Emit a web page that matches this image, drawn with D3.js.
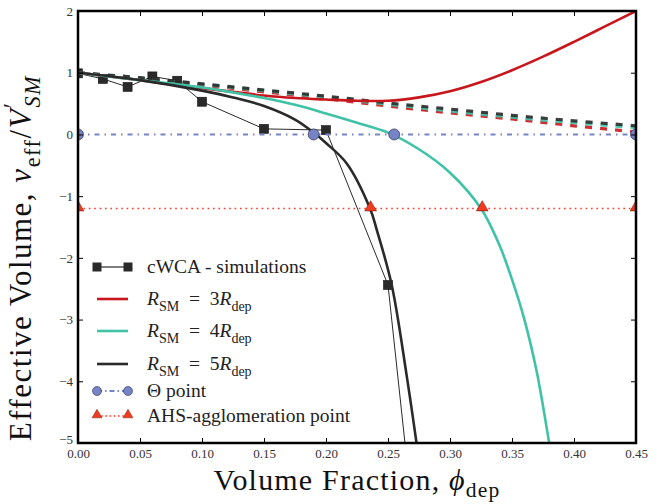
<!DOCTYPE html>
<html>
<head>
<meta charset="utf-8">
<script src="https://cdn.jsdelivr.net/npm/d3@7"></script>
<style>
body { margin: 0; background: #fff; }
svg { display: block; font-family: "Liberation Serif", "DejaVu Serif", serif; }
</style>
</head>
<body>
<svg width="662" height="504"></svg>
<script>
/********************** DATA *************************/
// cWCA simulation points (last one sits below the axis, only its line shows)
const simPhi = [0.00, 0.02, 0.04, 0.06, 0.08, 0.10, 0.15, 0.20, 0.25, 0.30];
const simNu  = [0.99, 0.90, 0.77, 0.94, 0.87, 0.53, 0.09, 0.07, -2.44, -11.8];

// theory curves, solid
const phiR3 = [0, 0.025, 0.05, 0.075, 0.1, 0.125, 0.15, 0.175, 0.2, 0.225, 0.25, 0.275, 0.3, 0.325, 0.35, 0.375, 0.4, 0.425, 0.45];
const nuR3  = [1.0, 0.94, 0.88, 0.81, 0.75, 0.69, 0.63, 0.59, 0.565, 0.545, 0.545, 0.6, 0.7, 0.85, 1.04, 1.26, 1.5, 1.75, 2.0];

const phiR4 = [0, 0.05, 0.1, 0.125, 0.15, 0.175, 0.2, 0.225, 0.25, 0.275, 0.3, 0.325, 0.34, 0.35, 0.36, 0.37, 0.38, 0.385];
const nuR4  = [1.0, 0.88, 0.76, 0.68, 0.59, 0.48, 0.34, 0.19, 0.03, -0.24, -0.62, -1.2, -1.8, -2.35, -3.0, -3.85, -5.0, -5.6];

const phiR5 = [0, 0.05, 0.1, 0.125, 0.15, 0.175, 0.19, 0.2, 0.2167, 0.2355, 0.241, 0.253, 0.265, 0.273, 0.277];
const nuR5  = [1.0, 0.88, 0.71, 0.6, 0.46, 0.24, 0.03, -0.14, -0.47, -1.2, -1.55, -2.44, -3.9, -5.0, -5.6];

// theory curves, dashed
const phiDash = [0, 0.05, 0.1, 0.15, 0.2, 0.25, 0.3, 0.35, 0.4, 0.45];
const dashR5  = [1.0, 0.92, 0.82, 0.72, 0.62, 0.51, 0.41, 0.31, 0.22, 0.14];
const dashR4  = [1.0, 0.91, 0.81, 0.71, 0.60, 0.49, 0.38, 0.28, 0.19, 0.11];
const dashR3  = [1.0, 0.90, 0.80, 0.69, 0.58, 0.46, 0.35, 0.25, 0.14, 0.04];

// special points
const thetaPhi = [0, 0.19, 0.255, 0.45];
const thetaNu  = [0, 0, 0, 0];
const ahsPhi   = [0, 0.236, 0.326, 0.45];
const ahsNu    = [-1.2, -1.2, -1.2, -1.2];

const xTicks = [0, 0.05, 0.1, 0.15, 0.2, 0.25, 0.3, 0.35, 0.4, 0.45];
const yTicks = [-5, -4, -3, -2, -1, 0, 1, 2];

/********************** SETUP *************************/
const svg = d3.select('svg');
const margin = { top: 11, right: 26, bottom: 61, left: 78 };
const width = 662, height = 504;

const red = '#c8161d', teal = '#3fc2a6', dark = '#2a2a2a', slate = '#7683c4';

const x = d3.scaleLinear().domain([0, 0.45]).range([margin.left, width - margin.right]);
const y = d3.scaleLinear().domain([-5, 2]).range([height - margin.bottom, margin.top]);

const zip = (xs, ys) => xs.map((v, i) => [v, ys[i]]);

svg.append('clipPath').attr('id', 'plotClip')
    .append('rect')
    .attr('x', x(0)).attr('y', y(2))
    .attr('width', x(0.45) - x(0)).attr('height', y(-5) - y(2));

const plot = svg.append('g').attr('clip-path', 'url(#plotClip)');

const straight = d3.line().x(d => x(d[0])).y(d => y(d[1]));
const smooth = d3.line().x(d => x(d[0])).y(d => y(d[1])).curve(d3.curveCatmullRom.alpha(0.5));

/********************** MARKS *************************/
// simulations: thin line + squares
plot.append('path')
    .attr('d', straight(zip(simPhi, simNu)))
    .attr('fill', 'none').attr('stroke', dark).attr('stroke-width', 1);
plot.selectAll('.sq').data(zip(simPhi, simNu)).join('rect')
    .attr('x', d => x(d[0]) - 4.5).attr('y', d => y(d[1]) - 4.5)
    .attr('width', 9).attr('height', 9)
    .attr('fill', dark).attr('stroke', '#111').attr('stroke-width', 0.6);

// dashed theory lines
[[dashR3, red], [dashR4, teal], [dashR5, dark]].forEach(([vals, col]) => {
    plot.append('path')
        .attr('d', smooth(zip(phiDash, vals)))
        .attr('fill', 'none').attr('stroke', col).attr('stroke-width', 3.2)
        .attr('stroke-dasharray', '7,8').attr('stroke-opacity', 0.9);
});

// solid theory lines
[[phiR3, nuR3, red], [phiR4, nuR4, teal], [phiR5, nuR5, dark]].forEach(([xs, ys, col]) => {
    plot.append('path')
        .attr('d', smooth(zip(xs, ys)))
        .attr('fill', 'none').attr('stroke', col).attr('stroke-width', 2.6);
});

// theta line + circles
plot.append('path')
    .attr('d', straight(zip([0, 0.45], [0, 0])))
    .attr('fill', 'none').attr('stroke', slate).attr('stroke-width', 2)
    .attr('stroke-dasharray', '5,5,1.5,5');
plot.selectAll('.th').data(zip(thetaPhi, thetaNu)).join('circle')
    .attr('cx', d => x(d[0])).attr('cy', d => y(d[1])).attr('r', 5.5)
    .attr('fill', slate).attr('stroke', '#2b2f55').attr('stroke-width', 0.7);

// AHS line + triangles
plot.append('path')
    .attr('d', straight(zip([0, 0.45], [-1.2, -1.2])))
    .attr('fill', 'none').attr('stroke', '#ff3b26').attr('stroke-width', 1.6)
    .attr('stroke-dasharray', '1.6,3.8');
const tri = d3.symbol().type(d3.symbolTriangle).size(60);
plot.selectAll('.tri').data(zip(ahsPhi, ahsNu)).join('path')
    .attr('d', tri)
    .attr('transform', d => `translate(${x(d[0])},${y(d[1]) - 1})`)
    .attr('fill', '#f23a1e').attr('stroke', '#7a1a10').attr('stroke-width', 0.6);

/********************** AXES *************************/
const tickStyle = g => {
    g.select('.domain').remove();
    g.selectAll('.tick line').attr('stroke', '#000').attr('stroke-width', 1);
    g.selectAll('.tick text').attr('fill', '#333').style('font-size', '13px')
        .style('font-family', '"Liberation Serif", serif');
};

svg.append('g').attr('transform', `translate(0,${y(-5)})`)
    .call(d3.axisBottom(x).tickValues(xTicks).tickFormat(d3.format('.2f')).tickSize(-5).tickPadding(6))
    .call(tickStyle);
svg.append('g').attr('transform', `translate(0,${y(2)})`)
    .call(d3.axisTop(x).tickValues(xTicks).tickFormat('').tickSize(-5))
    .call(tickStyle);
svg.append('g').attr('transform', `translate(${x(0)},0)`)
    .call(d3.axisLeft(y).tickValues(yTicks).tickFormat(d3.format('d')).tickSize(-5).tickPadding(5))
    .call(tickStyle);
svg.append('g').attr('transform', `translate(${x(0.45)},0)`)
    .call(d3.axisRight(y).tickValues(yTicks).tickFormat('').tickSize(-5))
    .call(tickStyle);

// nudge the bottom-most y label up a bit so it clears 0.00
svg.selectAll('.tick text').filter(d => d === -5).attr('dy', '0.05em');

svg.append('rect')
    .attr('x', x(0)).attr('y', y(2))
    .attr('width', x(0.45) - x(0)).attr('height', y(-5) - y(2))
    .attr('fill', 'none').attr('stroke', '#000').attr('stroke-width', 2.5);

/********************** TEXT HELPERS *************************/
// parts: {t, it, sub, sup, dx}
const mathText = (sel, parts, size, subShift = 0.3) => {
    let shift = 0;
    parts.forEach(p => {
        let target = p.sub ? size * subShift : p.sup ? -size * 0.38 : 0;
        const ts = sel.append('tspan').text(p.t)
            .attr('dy', target - shift)
            .style('font-size', (p.sub || p.sup ? size * 0.72 : size) + 'px');
        if (p.dx) ts.attr('dx', p.dx);
        if (p.it) ts.style('font-style', 'italic');
        shift = target;
    });
};

// axis titles
const xt = svg.append('text').attr('x', 357).attr('y', 490)
    .attr('text-anchor', 'middle').attr('fill', '#111').style('letter-spacing', '1.2px');
mathText(xt, [{ t: 'Volume Fraction, ' }, { t: 'ϕ', it: true }, { t: 'dep', sub: true }], 30, 0.22);

const yt = svg.append('text').attr('transform', 'translate(31,258) rotate(-90)')
    .attr('text-anchor', 'middle').attr('fill', '#111').style('letter-spacing', '1.5px');
mathText(yt, [{ t: 'Effective Volume, ' }, { t: 'ν', it: true }, { t: 'eff', sub: true },
    { t: '/' }, { t: 'V', it: true }, { t: '′', sup: true }, { t: 'SM', sub: true, it: true, dx: -6 }], 31);

/********************** LEGEND *************************/
const legend = svg.append('g');
const lx0 = 97, lx1 = 128, tx = 147;
const rows = [267, 299, 331, 364, 391, 416];

// simulations entry
legend.append('line').attr('x1', lx0).attr('x2', lx1).attr('y1', rows[0]).attr('y2', rows[0])
    .attr('stroke', dark).attr('stroke-width', 1.2);
[lx0, lx1].forEach(px => legend.append('rect')
    .attr('x', px - 4.5).attr('y', rows[0] - 4.5).attr('width', 9).attr('height', 9).attr('fill', dark));

[[red, rows[1]], [teal, rows[2]], [dark, rows[3]]].forEach(([col, ry]) => {
    legend.append('line').attr('x1', lx0).attr('x2', lx1).attr('y1', ry).attr('y2', ry)
        .attr('stroke', col).attr('stroke-width', 2.6);
});

legend.append('line').attr('x1', lx0).attr('x2', lx1).attr('y1', rows[4]).attr('y2', rows[4])
    .attr('stroke', slate).attr('stroke-width', 2).attr('stroke-dasharray', '5,3,1.5,3');
[lx0, lx1].forEach(px => legend.append('circle').attr('cx', px).attr('cy', rows[4]).attr('r', 4.5)
    .attr('fill', slate).attr('stroke', '#2b2f55').attr('stroke-width', 0.6));

legend.append('line').attr('x1', lx0).attr('x2', lx1).attr('y1', rows[5]).attr('y2', rows[5])
    .attr('stroke', '#ff3b26').attr('stroke-width', 1.6).attr('stroke-dasharray', '1.6,2.6');
const triSmall = d3.symbol().type(d3.symbolTriangle).size(42);
[lx0, lx1].forEach(px => legend.append('path').attr('d', triSmall)
    .attr('transform', `translate(${px},${rows[5] - 1})`)
    .attr('fill', '#f23a1e').attr('stroke', '#7a1a10').attr('stroke-width', 0.5));

const labelSize = 19.5;
const lt = (ry) => legend.append('text').attr('x', tx).attr('y', ry + 6).attr('fill', '#222');
mathText(lt(rows[0]), [{ t: 'cWCA - simulations' }], labelSize);
['3', '4', '5'].forEach((n, i) => {
    mathText(lt(rows[i + 1]), [{ t: 'R', it: true }, { t: 'SM', sub: true }, { t: '\u2002=\u2002' + n },
        { t: 'R', it: true }, { t: 'dep', sub: true }], labelSize);
});
mathText(lt(rows[4]), [{ t: 'Θ point' }], labelSize);
mathText(lt(rows[5]), [{ t: 'AHS-agglomeration point' }], labelSize);
</script>
</body>
</html>
